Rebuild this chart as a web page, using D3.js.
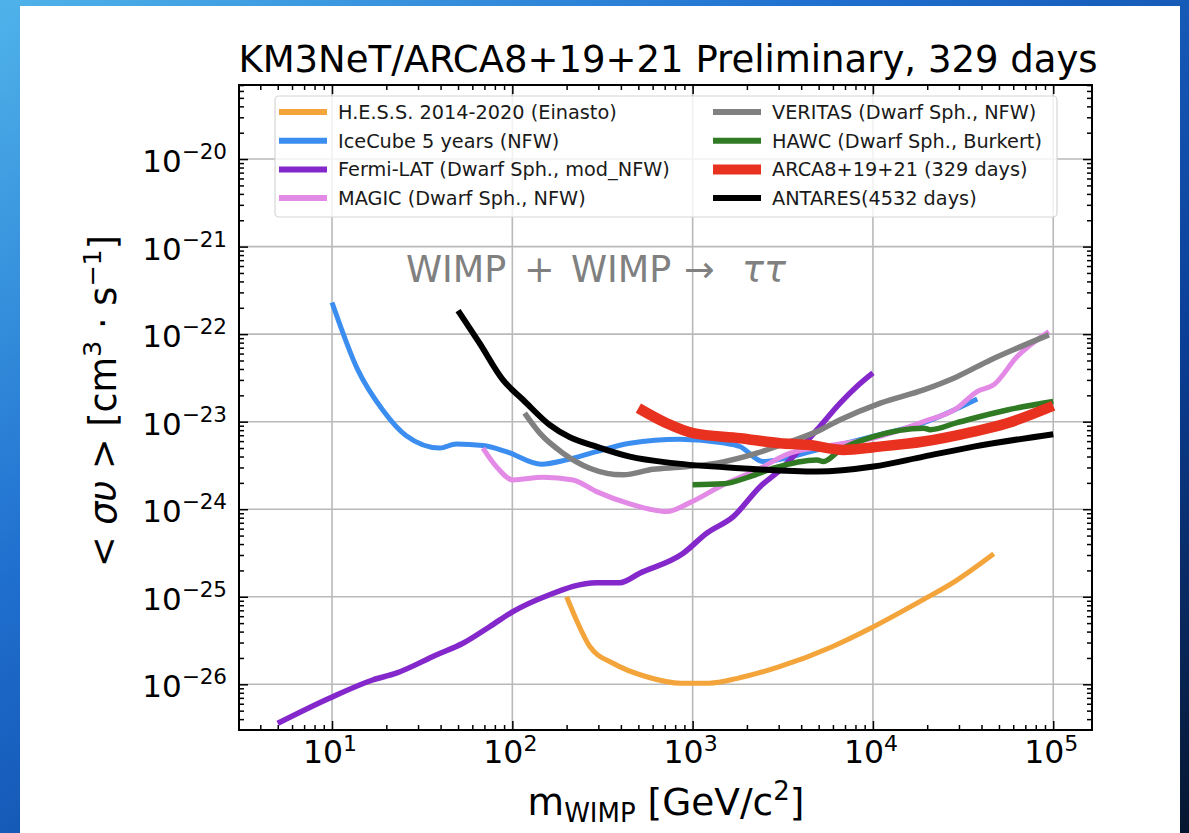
<!DOCTYPE html>
<html>
<head>
<meta charset="utf-8">
<script src="https://cdn.jsdelivr.net/npm/d3@7"></script>
<style>
  body { margin: 0; background: #fff; }
  svg text { font-family: 'DejaVu Sans', sans-serif; }
</style>
</head>
<body>
<div id="chart"></div>
<script>
// limits: mass in GeV/c^2, <sigma v> in cm^3 s^-1
const hess = [[200, 1.0e-25], [227, 5.4e-26], [269, 2.7e-26], [362, 1.74e-26], [555, 1.22e-26], [867, 1.03e-26],
    [1240, 1.03e-26], [1773, 1.17e-26], [3034, 1.59e-26], [5940, 2.69e-26], [9700, 4.37e-26], [18160, 8.8e-26],
    [28400, 1.49e-25], [46800, 3.1e-25]];
const iceCube = [[10, 2.3e-22], [13.9, 3.9e-23], [19.1, 1.36e-23], [25.8, 6.9e-24], [39.5, 5.0e-24], [48.9, 5.57e-24],
    [68.7, 5.33e-24], [92.6, 4.55e-24], [145, 3.27e-24], [200, 3.66e-24], [293, 4.55e-24], [449, 5.68e-24],
    [849, 6.3e-24], [1470, 5.73e-24], [1830, 5.2e-24], [2450, 3.5e-24], [5000, 4.8e-24], [10000, 6.8e-24],
    [19000, 9.7e-24], [37900, 1.82e-23]];
const fermi = [[5, 3.58e-27], [9.66, 6.92e-27], [16.8, 1.12e-26], [22.7, 1.34e-26], [37.8, 2.16e-26], [53.2, 2.94e-26],
    [74.8, 4.55e-26], [100.7, 6.76e-26], [154.5, 1.02e-25], [293, 1.45e-25], [394, 1.45e-25], [509, 1.86e-25],
    [887, 3.14e-25], [1196, 5.32e-25], [1681, 8.23e-25], [2366, 1.81e-24], [3054, 2.81e-24], [4886, 8.05e-24],
    [6577, 1.63e-23], [8141, 2.52e-23], [10000, 3.6e-23]];
const magic = [[68.7, 5.0e-24], [81.5, 3.07e-24], [100.7, 2.16e-24], [148, 2.32e-24], [217, 2.16e-24], [293, 1.59e-24],
    [449, 1.15e-24], [580, 1.0e-24], [717, 9.4e-25], [966, 1.19e-24], [1479, 1.9e-24], [2268, 2.81e-24],
    [3475, 4.37e-24], [5320, 5.19e-24], [10070, 6.48e-24], [19100, 1.0e-23], [29300, 1.43e-23], [37800, 2.21e-23],
    [46800, 2.64e-23], [63100, 5.55e-23], [94600, 1.07e-22]];
const veritas = [[117, 1.25e-23], [142, 7.39e-24], [191, 4.37e-24], [269, 2.94e-24], [411, 2.47e-24], [604, 2.86e-24],
    [849, 3.02e-24], [1360, 3.36e-24], [2268, 4.37e-24], [3475, 5.93e-24], [4886, 7.7e-24], [6577, 1.05e-23],
    [10990, 1.63e-23], [19100, 2.31e-23], [29300, 3.27e-23], [44900, 5.08e-23], [63100, 6.92e-23], [94600, 9.82e-23]];
const hawc = [[1000, 1.9e-24], [1479, 1.95e-24], [2080, 2.36e-24], [2805, 2.94e-24], [4886, 3.66e-24], [5320, 3.5e-24],
    [6577, 4.76e-24], [10070, 6.76e-24], [19100, 8.43e-24], [20800, 8.1e-24], [29300, 9.77e-24], [55500, 1.36e-23],
    [100000, 1.7e-23]];
const arca = [[500, 1.43e-23], [717, 9.61e-24], [1007, 7.39e-24], [1832, 6.48e-24], [3054, 5.68e-24], [4296, 5.45e-24],
    [6871, 4.76e-24], [10070, 5.11e-24], [19100, 5.93e-24], [36200, 7.7e-24], [55500, 9.61e-24], [100000, 1.52e-23]];
const antares = [[50, 1.86e-22], [65.8, 7.89e-23], [88.7, 3.0e-23], [115, 1.77e-23], [161, 9.19e-24], [208, 6.65e-24],
    [293, 5.19e-24], [449, 3.99e-24], [780, 3.36e-24], [1832, 2.94e-24], [4886, 2.69e-24], [10070, 3.07e-24],
    [19100, 3.99e-24], [36200, 5.19e-24], [100000, 7.2e-24]];

const seriesNames = ['H.E.S.S. 2014-2020 (Einasto)', 'IceCube 5 years (NFW)', 'Fermi-LAT (Dwarf Sph., mod_NFW)',
    'MAGIC (Dwarf Sph., NFW)', 'VERITAS (Dwarf Sph., NFW)', 'HAWC (Dwarf Sph., Burkert)',
    'ARCA8+19+21 (329 days)', 'ANTARES(4532 days)'];
const seriesData = [hess, iceCube, fermi, magic, veritas, hawc, arca, antares];

const xMajor = [1e1, 1e2, 1e3, 1e4, 1e5];
const yMajor = [1e-26, 1e-25, 1e-24, 1e-23, 1e-22, 1e-21, 1e-20];

// styles
const lineColors = ['#f3a43b', '#3b8ef0', '#8427cb', '#e389e6', '#808080', '#2f7a23', '#e8321f', '#000000'];
const lineWidths = [5, 5, 5.5, 5, 5.5, 5.5, 10.5, 6];

const W = 1189, H = 833;
const pLeft = 239, pRight = 1092, pTop = 85, pBottom = 730;

const svg = d3.select('#chart')
    .append('svg')
    .attr('width', W)
    .attr('height', H);

//#region background
const defs = svg.append('defs');
const grad = defs.append('linearGradient')
    .attr('id', 'bg')
    .attr('x1', 0).attr('y1', 0).attr('x2', 1).attr('y2', 1);
grad.append('stop').attr('offset', '0%').attr('stop-color', '#4fb3ea');
grad.append('stop').attr('offset', '35%').attr('stop-color', '#1f6fcf');
grad.append('stop').attr('offset', '70%').attr('stop-color', '#0b3f98');
grad.append('stop').attr('offset', '100%').attr('stop-color', '#07162f');

svg.append('rect').attr('width', W).attr('height', H).attr('fill', 'url(#bg)');
svg.append('rect').attr('x', 20).attr('y', 6).attr('width', 1160).attr('height', H - 6).attr('fill', '#fff');
//#endregion

//#region scales, grid, axes
const x = d3.scaleLog().domain([10 ** 0.484, 10 ** 5.215]).range([pLeft, pRight]);
const y = d3.scaleLog().domain([10 ** -26.522, 10 ** -19.154]).range([pBottom, pTop]);

const minorOf = (scale) => {
    const [a, b] = scale.domain();
    const out = [];
    for (let k = Math.floor(Math.log10(a)); k <= Math.ceil(Math.log10(b)); k++) {
        for (let j = 2; j <= 9; j++) {
            const v = j * 10 ** k;
            if (v >= a && v <= b) out.push(v);
        }
    }
    return out;
};
const xMinor = minorOf(x), yMinor = minorOf(y);

const gGrid = svg.append('g').attr('stroke', '#b9b9b9').attr('stroke-width', 1.6);
gGrid.selectAll('.gx').data(xMajor).enter().append('line')
    .attr('x1', d => x(d)).attr('x2', d => x(d)).attr('y1', pTop).attr('y2', pBottom);
gGrid.selectAll('.gy').data(yMajor).enter().append('line')
    .attr('y1', d => y(d)).attr('y2', d => y(d)).attr('x1', pLeft).attr('x2', pRight);

function drawTicks(axis, transform, values, size) {
    const g = svg.append('g')
        .attr('transform', transform)
        .call(axis.tickValues(values).tickSize(-size).tickSizeOuter(0).tickFormat(''));
    g.select('.domain').remove();
    g.selectAll('line').attr('stroke', '#000').attr('stroke-width', 1.5);
    return g;
}
[[xMajor, 9], [xMinor, 5]].forEach(([vals, s]) => {
    drawTicks(d3.axisBottom(x), `translate(0,${pBottom})`, vals, s);
    drawTicks(d3.axisTop(x), `translate(0,${pTop})`, vals, s);
});
[[yMajor, 9], [yMinor, 5]].forEach(([vals, s]) => {
    drawTicks(d3.axisLeft(y), `translate(${pLeft},0)`, vals, s);
    drawTicks(d3.axisRight(y), `translate(${pRight},0)`, vals, s);
});

const expText = e => (e < 0 ? '\u2212' : '') + Math.abs(e);

const xLabels = svg.append('g');
xMajor.forEach(v => {
    const t = xLabels.append('text')
        .attr('x', x(v) - 2).attr('y', pBottom + 33)
        .attr('text-anchor', 'middle')
        .attr('font-size', 31.5);
    t.append('tspan').text('10');
    t.append('tspan').attr('dy', -12).attr('font-size', 22).text(expText(Math.round(Math.log10(v))));
});
const yLabels = svg.append('g');
yMajor.forEach(v => {
    const t = yLabels.append('text')
        .attr('x', pLeft - 12).attr('y', y(v) + 13)
        .attr('text-anchor', 'end')
        .attr('font-size', 31);
    t.append('tspan').text('10');
    t.append('tspan').attr('dy', -13).attr('font-size', 21.5).text(expText(Math.round(Math.log10(v))));
});
//#endregion

//#region curves
const clip = defs.append('clipPath').attr('id', 'plotClip');
clip.append('rect').attr('x', pLeft).attr('y', pTop).attr('width', pRight - pLeft).attr('height', pBottom - pTop);

const lineMaker = d3.line()
    .x(d => x(d[0]))
    .y(d => y(d[1]))
    .curve(d3.curveMonotoneX);

svg.append('g')
    .attr('clip-path', 'url(#plotClip)')
    .selectAll('path')
    .data(seriesData)
    .enter()
    .append('path')
    .attr('d', d => lineMaker(d))
    .attr('fill', 'none')
    .attr('stroke', (d, i) => lineColors[i])
    .attr('stroke-width', (d, i) => lineWidths[i])
    .attr('stroke-linejoin', 'round')
    .attr('stroke-linecap', 'butt');
//#endregion

// frame
svg.append('rect')
    .attr('x', pLeft).attr('y', pTop).attr('width', pRight - pLeft).attr('height', pBottom - pTop)
    .attr('fill', 'none').attr('stroke', '#000').attr('stroke-width', 2);

//#region legend
const gLegend = svg.append('g');
gLegend.append('rect')
    .attr('x', 275).attr('y', 96).attr('width', 782).attr('height', 121).attr('rx', 4)
    .attr('fill', '#fff').attr('fill-opacity', 0.8)
    .attr('stroke', '#d6d6d6').attr('stroke-width', 1.2);

seriesNames.forEach((name, i) => {
    const col = Math.floor(i / 4), row = i % 4;
    const hx = col === 0 ? 279 : 713;
    const ty = 112 + row * 28.7;
    gLegend.append('line')
        .attr('x1', hx).attr('x2', hx + 48).attr('y1', ty).attr('y2', ty)
        .attr('stroke', lineColors[i]).attr('stroke-width', lineWidths[i] === 10.5 ? 10 : 6);
    gLegend.append('text')
        .attr('x', hx + 59).attr('y', ty + 7)
        .attr('font-size', 19.3)
        .attr('fill', '#1a1a1a')
        .text(name);
});
//#endregion

//#region titles
svg.append('text')
    .attr('x', 668).attr('y', 72)
    .attr('text-anchor', 'middle')
    .attr('font-size', 37)
    .text('KM3NeT/ARCA8+19+21 Preliminary, 329 days');

const ann = svg.append('text')
    .attr('y', 282)
    .attr('font-size', 36.5)
    .attr('fill', '#808080');
ann.append('tspan').attr('x', 406).text('WIMP');
ann.append('tspan').attr('x', 524).text('+');
ann.append('tspan').attr('x', 571).text('WIMP');
ann.append('tspan').attr('x', 684).text('\u2192');
ann.append('tspan').attr('x', 742).attr('font-style', 'italic').text('\u03c4\u03c4');

const xTitle = svg.append('text')
    .attr('x', 666).attr('y', 815)
    .attr('text-anchor', 'middle')
    .attr('font-size', 37.5);
xTitle.append('tspan').text('m');
xTitle.append('tspan').attr('dy', 7).attr('font-size', 26).text('WIMP');
xTitle.append('tspan').attr('dy', -7).text(' [GeV/c');
xTitle.append('tspan').attr('dy', -15).attr('font-size', 26).text('2');
xTitle.append('tspan').attr('dy', 15).text(']');

const yTitle = svg.append('text')
    .attr('transform', 'translate(116,401) rotate(-90)')
    .attr('text-anchor', 'middle')
    .attr('font-size', 36.5);
yTitle.append('tspan').text('< ');
yTitle.append('tspan').attr('font-style', 'italic').text('\u03c3\u03c5');
yTitle.append('tspan').text(' > [cm');
yTitle.append('tspan').attr('dy', -15).attr('font-size', 25.5).text('3');
yTitle.append('tspan').attr('dy', 15).text(' \u00b7 s');
yTitle.append('tspan').attr('dy', -15).attr('font-size', 25.5).text('\u22121');
yTitle.append('tspan').attr('dy', 15).text(']');
//#endregion
</script>
</body>
</html>
